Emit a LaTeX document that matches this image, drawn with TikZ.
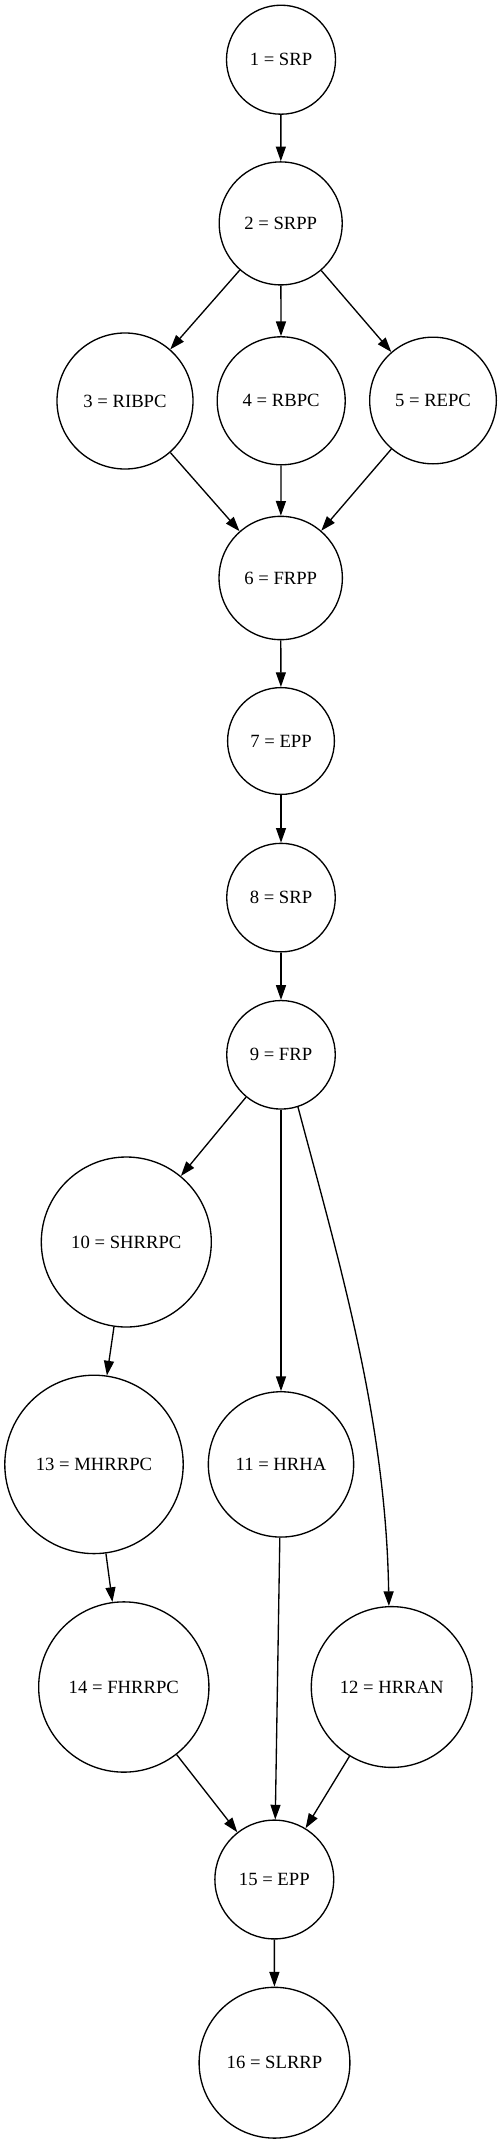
\documentclass[tikz,border=0pt]{standalone}
\usepackage{fontspec}
\setmainfont{Liberation Serif}
\usetikzlibrary{arrows.meta}
\tikzset{
  nd/.style={circle, draw=black, line width=1pt, inner sep=0pt, font=\fontsize{14}{16.8}\selectfont},
  arr/.style={draw=black, line width=1pt, -{Triangle[length=11pt,width=7.5pt]}}
}
\begin{document}
\begin{tikzpicture}[x=0.75pt,y=-0.75pt]
\path[use as bounding box] (0,0) rectangle (502,2144);
\node[nd, minimum size=81.75pt] (n1) at (281,59.7) {1 = SRP};
\node[nd, minimum size=92.25pt] (n2) at (280.7,223.4) {2 = SRPP};
\node[nd, minimum size=102pt] (n3) at (125,401) {3 = RIBPC};
\node[nd, minimum size=96pt] (n4) at (281.2,400.8) {4 = RBPC};
\node[nd, minimum size=95pt] (n5) at (433,400.5) {5 = REPC};
\node[nd, minimum size=92.5pt] (n6) at (280.7,578) {6 = FRPP};
\node[nd, minimum size=80.1pt] (n7) at (281,741) {7 = EPP};
\node[nd, minimum size=81.4pt] (n8) at (281,897.6) {8 = SRP};
\node[nd, minimum size=81.4pt] (n9) at (281,1054.8) {9 = FRP};
\node[nd, minimum size=127.5pt] (n10) at (126.3,1242) {10 = SHRRPC};
\node[nd, minimum size=133.8pt] (n13) at (94,1464.4) {13 = MHRRPC};
\node[nd, minimum size=109pt] (n11) at (281,1464.4) {11 = HRHA};
\node[nd, minimum size=127.7pt] (n14) at (123.8,1687) {14 = FHRRPC};
\node[nd, minimum size=120.6pt] (n12) at (391.7,1687) {12 = HRRAN};
\node[nd, minimum size=89.1pt] (n15) at (274.3,1879.5) {15 = EPP};
\node[nd, minimum size=113.1pt] (n16) at (274.5,2062.7) {16 = SLRRP};
\draw[arr] (n1) -- (n2);
\draw[arr] (n2) -- (n3);
\draw[arr] (n2) -- (n4);
\draw[arr] (n2) -- (n5);
\draw[arr] (n3) -- (n6);
\draw[arr] (n4) -- (n6);
\draw[arr] (n5) -- (n6);
\draw[arr] (n6) -- (n7);
\draw[arr] (n7) -- (n8);
\draw[arr] (n8) -- (n9);
\draw[arr] (n9) -- (n10);
\draw[arr] (n9) -- (n11);
\draw[arr] (n9.-72) .. controls (340,1265) and (386,1420) .. (n12.92);
\draw[arr] (n10) -- (n13);
\draw[arr] (n13) -- (n14);
\draw[arr] (n11) -- (n15);
\draw[arr] (n14) -- (n15);
\draw[arr] (n12) -- (n15);
\draw[arr] (n15) -- (n16);
\end{tikzpicture}
\end{document}
